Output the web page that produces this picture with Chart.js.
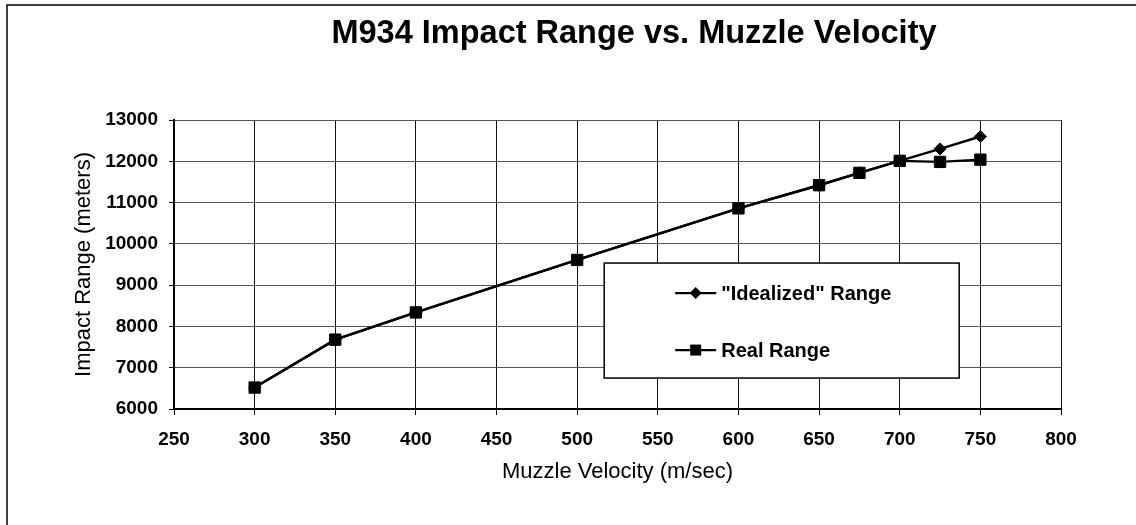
<!DOCTYPE html>
<html>
<head>
<meta charset="utf-8">
<script src="https://cdn.jsdelivr.net/npm/chart.js@4.4.1/dist/chart.umd.min.js"></script>
<style>
  html, body { margin: 0; padding: 0; background: #fff; }
  #wrap { position: relative; width: 1136px; height: 525px; }
</style>
</head>
<body>
<div id="wrap"><canvas id="c" width="1136" height="525"></canvas></div>
<script>
// ---- Data ----
const chartTitle = 'M934 Impact Range vs. Muzzle Velocity';
const xAxisTitle = 'Muzzle Velocity (m/sec)';
const yAxisTitle = 'Impact Range (meters)';
const muzzleVelocity = [300, 350, 400, 500, 600, 650, 675, 700, 725, 750];
const idealizedRange = [6520, 7680, 8340, 9610, 10860, 11420, 11720, 12010, 12300, 12600];
const realRange      = [6520, 7680, 8340, 9610, 10860, 11420, 11720, 12010, 11985, 12040];
const seriesNames = ['"Idealized" Range', 'Real Range'];
const xTicks = { min: 250, max: 800, step: 50 };
const yTicks = { min: 6000, max: 13000, step: 1000 };

const FONT = '"Liberation Sans", Arial, Helvetica, sans-serif';

function toPoints(xs, ys) { return xs.map((x, i) => ({ x: x, y: ys[i] })); }

const frameAndLegend = {
  id: 'frameAndLegend',
  afterLayout(chart) {
    // place the title's centre where the original has it
    const t = chart.titleBlock;
    if (t) { t.left = 132; t.right = 1136; }
  },
  afterDraw(chart) {
    const ctx = chart.ctx;
    ctx.save();
    // outer frame (top + left)
    ctx.strokeStyle = '#000';
    ctx.lineWidth = 1.5;
    ctx.beginPath();
    ctx.moveTo(7, 525);
    ctx.lineTo(7, 5);
    ctx.lineTo(1136, 5);
    ctx.stroke();

    // legend box
    const a = chart.chartArea;
    const bx = a.left + (a.right - a.left) * 0.485;
    const by = a.top + (a.bottom - a.top) * 0.495;
    const bw = 355, bh = 115;
    ctx.fillStyle = '#fff';
    ctx.fillRect(bx, by, bw, bh);
    ctx.lineWidth = 1.5;
    ctx.strokeStyle = '#000';
    ctx.strokeRect(bx, by, bw, bh);

    const rows = [by + 30, by + 87];
    chart.data.datasets.forEach((ds, i) => {
      const y = rows[i];
      const lx = bx + 71;
      ctx.strokeStyle = '#000';
      ctx.lineWidth = 2.2;
      ctx.beginPath();
      ctx.moveTo(lx, y);
      ctx.lineTo(lx + 41, y);
      ctx.stroke();
      ctx.fillStyle = '#000';
      const cx = lx + 20.5;
      ctx.beginPath();
      if (ds.pointStyle === 'rectRot') {
        const r = 6;
        ctx.moveTo(cx - r, y); ctx.lineTo(cx, y - r); ctx.lineTo(cx + r, y); ctx.lineTo(cx, y + r);
        ctx.closePath();
      } else {
        const s = 5.5;
        ctx.rect(cx - s, y - s, 2 * s, 2 * s);
      }
      ctx.fill();
      ctx.font = 'bold 20px ' + FONT;
      ctx.textBaseline = 'middle';
      ctx.textAlign = 'left';
      ctx.fillText(ds.label, lx + 46, y + 1);
    });
    ctx.restore();
  }
};

new Chart(document.getElementById('c'), {
  type: 'line',
  data: {
    datasets: [
      {
        label: seriesNames[0],
        data: toPoints(muzzleVelocity, idealizedRange),
        borderColor: '#000', backgroundColor: '#000',
        borderWidth: 2.4, pointStyle: 'rectRot', pointRadius: 6, pointBorderWidth: 1,
        tension: 0
      },
      {
        label: seriesNames[1],
        data: toPoints(muzzleVelocity, realRange),
        borderColor: '#000', backgroundColor: '#000',
        borderWidth: 2.4, pointStyle: 'rect', pointRadius: 8, pointBorderWidth: 1,
        tension: 0
      }
    ]
  },
  options: {
    responsive: false,
    animation: false,
    devicePixelRatio: 1,
    layout: { padding: { left: 0, right: 75, top: 0, bottom: 0 } },
    plugins: {
      legend: { display: false },
      tooltip: { enabled: false },
      title: {
        display: true,
        text: chartTitle,
        color: '#000',
        font: { family: FONT, size: 32.5, weight: 'bold' },
        padding: { top: 15, bottom: 66 }
      }
    },
    scales: {
      x: {
        type: 'linear',
        min: xTicks.min, max: xTicks.max,
        afterFit(s) { s.height = 116; },
        ticks: {
          stepSize: xTicks.step, color: '#000', padding: 13,
          callback: (v) => String(v),
          font: { family: FONT, size: 19, weight: 'bold' }
        },
        grid: { color: '#111', lineWidth: 1, tickLength: 6, tickColor: '#000' },
        border: { color: '#000', width: 2 },
        title: {
          display: true, text: xAxisTitle, color: '#000',
          font: { family: FONT, size: 22 },
          padding: { top: 0, bottom: 40 }
        }
      },
      y: {
        type: 'linear',
        min: yTicks.min, max: yTicks.max,
        afterFit(s) { s.width = 174; },
        ticks: {
          stepSize: yTicks.step, color: '#000', padding: 11,
          callback: (v) => String(v),
          font: { family: FONT, size: 19, weight: 'bold' }
        },
        grid: { color: '#555', lineWidth: 1, tickLength: 5, tickColor: '#000' },
        border: { color: '#000', width: 2 },
        title: {
          display: true, text: yAxisTitle, color: '#000',
          font: { family: FONT, size: 22 },
          padding: { top: 71, bottom: 0 }
        }
      }
    }
  },
  plugins: [frameAndLegend]
});
</script>
</body>
</html>
